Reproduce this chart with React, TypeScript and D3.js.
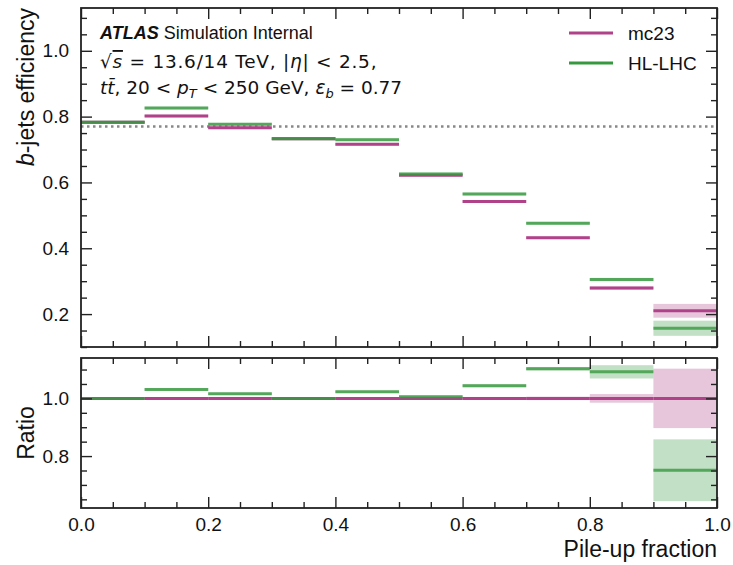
import React, { useEffect, useRef } from "react";
import * as d3 from "d3";

// bins of pile-up fraction
const binEdges = [0, 0.1, 0.2, 0.3, 0.4, 0.5, 0.6, 0.7, 0.8, 0.9, 1.0];

// b-jet efficiency per bin
const mc23Eff = [0.783, 0.802, 0.766, 0.733, 0.716, 0.622, 0.542, 0.432, 0.279, 0.21];
const mc23Err = [0.004, 0.004, 0.004, 0.004, 0.004, 0.004, 0.004, 0.004, 0.005, 0.021];
const hllhcEff = [0.783, 0.826, 0.777, 0.733, 0.73, 0.626, 0.565, 0.476, 0.305, 0.157];
const hllhcErr = [0.004, 0.004, 0.004, 0.004, 0.004, 0.004, 0.004, 0.004, 0.005, 0.023];

// ratio to mc23
const mc23Ratio = [1, 1, 1, 1, 1, 1, 1, 1, 1, 1];
const mc23RatioErr = [0.004, 0.004, 0.004, 0.004, 0.004, 0.004, 0.005, 0.006, 0.015, 0.103];
const hllhcRatio = [1.0, 1.031, 1.016, 1.0, 1.023, 1.006, 1.044, 1.103, 1.092, 0.751];
const hllhcRatioErr = [0.004, 0.004, 0.004, 0.004, 0.004, 0.004, 0.005, 0.006, 0.023, 0.107];

const xMajor = [0, 0.2, 0.4, 0.6, 0.8, 1.0];
const effMajor = [0.2, 0.4, 0.6, 0.8, 1.0];
const ratioMajor = [0.8, 1.0];
const refEff = 0.77;

const purple = "#b0428a";
const green = "#36993f";
const font = "'Liberation Sans', Arial, sans-serif";
const mathFont = "'DejaVu Sans', sans-serif";

const W = 733;
const H = 565;

const App = () => {
  const ref = useRef<SVGSVGElement>(null);

  useEffect(() => {
    const svg = d3.select(ref.current);
    svg.selectAll("*").remove();

    const left = 81;
    const right = 717;
    const mainTop = 8;
    const mainBottom = 347;
    const ratioTop = 358;
    const ratioBottom = 508;

    const x = d3.scaleLinear().domain([0, 1]).range([left, right]);
    const yEff = d3.scaleLinear().domain([0.1, 1.13]).range([mainBottom, mainTop]);
    const yRatio = d3.scaleLinear().domain([0.62, 1.14]).range([ratioBottom, ratioTop]);

    const xMinor = d3.range(0, 1.0001, 0.05).filter((v) => Math.abs(v * 5 - Math.round(v * 5)) > 1e-6);

    const minorOf = (y, step) =>
      d3
        .range(Math.ceil(y.domain()[0] / step) * step, y.domain()[1], step)
        .filter((v) => Math.abs(v * 5 - Math.round(v * 5)) > 1e-6);

    // ticks on all four sides, pointing in
    const frame = (y, yMajor, top, bottom, withXLabels) => {
      const g = svg.append("g");
      const style = (a) => {
        a.select(".domain").remove();
        a.selectAll("line").attr("stroke", "#222").attr("stroke-width", 1.4);
        a.selectAll("text").attr("font-size", 19).attr("font-family", font).attr("fill", "#111");
      };
      g.append("g")
        .attr("transform", `translate(0,${bottom})`)
        .call(
          d3.axisBottom(x).tickValues(xMajor).tickSizeInner(-11).tickSizeOuter(0).tickPadding(9.5)
            .tickFormat(withXLabels ? d3.format(".1f") : () => "")
        )
        .call(style);
      g.append("g")
        .attr("transform", `translate(0,${bottom})`)
        .call(d3.axisBottom(x).tickValues(xMinor).tickSize(-6).tickFormat(() => ""))
        .call(style);
      g.append("g")
        .attr("transform", `translate(0,${top})`)
        .call(d3.axisTop(x).tickValues(xMajor).tickSize(-11).tickFormat(() => ""))
        .call(style);
      g.append("g")
        .attr("transform", `translate(0,${top})`)
        .call(d3.axisTop(x).tickValues(xMinor).tickSize(-6).tickFormat(() => ""))
        .call(style);
      g.append("g")
        .attr("transform", `translate(${left},0)`)
        .call(d3.axisLeft(y).tickValues(yMajor).tickSizeInner(-11).tickSizeOuter(0).tickPadding(12).tickFormat(d3.format(".1f")))
        .call(style);
      g.append("g")
        .attr("transform", `translate(${left},0)`)
        .call(d3.axisLeft(y).tickValues(minorOf(y, 0.05)).tickSize(-6).tickFormat(() => ""))
        .call(style);
      g.append("g")
        .attr("transform", `translate(${right},0)`)
        .call(d3.axisRight(y).tickValues(yMajor).tickSize(-11).tickFormat(() => ""))
        .call(style);
      g.append("g")
        .attr("transform", `translate(${right},0)`)
        .call(d3.axisRight(y).tickValues(minorOf(y, 0.05)).tickSize(-6).tickFormat(() => ""))
        .call(style);
      g.append("rect")
        .attr("x", left)
        .attr("y", top)
        .attr("width", right - left)
        .attr("height", bottom - top)
        .attr("fill", "none")
        .attr("stroke", "#222")
        .attr("stroke-width", 1.8);
    };

    // step series drawn as a band plus a line per bin
    const series = (y, vals, errs, color, lineOpacity) => {
      const bins = vals.map((v, i) => ({ x0: binEdges[i], x1: binEdges[i + 1], v, e: errs[i] }));
      const g = svg.append("g");
      g.selectAll("rect")
        .data(bins)
        .join("rect")
        .attr("x", (d) => x(d.x0))
        .attr("width", (d) => x(d.x1) - x(d.x0))
        .attr("y", (d) => y(d.v + d.e))
        .attr("height", (d) => y(d.v - d.e) - y(d.v + d.e))
        .attr("fill", color)
        .attr("fill-opacity", 0.3);
      g.selectAll("line")
        .data(bins)
        .join("line")
        .attr("x1", (d) => x(d.x0))
        .attr("x2", (d) => x(d.x1))
        .attr("y1", (d) => y(d.v))
        .attr("y2", (d) => y(d.v))
        .attr("stroke", color)
        .attr("stroke-opacity", lineOpacity)
        .attr("stroke-width", 3);
    };

    // main panel
    svg.append("line")
      .attr("x1", left)
      .attr("x2", right)
      .attr("y1", yEff(refEff))
      .attr("y2", yEff(refEff))
      .attr("stroke", "#888")
      .attr("stroke-width", 2.5)
      .attr("stroke-dasharray", "2.5,3.5");
    series(yEff, mc23Eff, mc23Err, purple, 1);
    series(yEff, hllhcEff, hllhcErr, green, 0.8);
    frame(yEff, effMajor, mainTop, mainBottom, false);

    // ratio panel
    series(yRatio, mc23Ratio, mc23RatioErr, purple, 1);
    series(yRatio, hllhcRatio, hllhcRatioErr, green, 0.8);
    frame(yRatio, ratioMajor, ratioTop, ratioBottom, true);

    // legend
    const legend = svg.append("g");
    [
      { label: "mc23", color: purple },
      { label: "HL-LHC", color: green },
    ].forEach((d, i) => {
      const yy = 33 + i * 30;
      legend.append("line")
        .attr("x1", 569).attr("x2", 613).attr("y1", yy).attr("y2", yy)
        .attr("stroke", d.color).attr("stroke-width", 3);
      legend.append("text")
        .attr("x", 628).attr("y", yy).attr("dy", "0.36em")
        .attr("font-family", font).attr("font-size", 19).attr("fill", "#111")
        .text(d.label);
    });

    // ATLAS label block
    const t1 = svg.append("text").attr("x", 100).attr("y", 39).attr("font-family", font).attr("font-size", 18).attr("fill", "#111");
    t1.append("tspan").attr("font-weight", "bold").attr("font-style", "italic").text("ATLAS");
    t1.append("tspan").text(" Simulation Internal");

    const t2 = svg.append("text").attr("x", 100).attr("y", 68).attr("font-family", mathFont).attr("font-size", 18.5)
      .attr("letter-spacing", 0.75).attr("fill", "#111");
    t2.append("tspan").text("\u221A");
    t2.append("tspan").attr("font-style", "italic").attr("text-decoration", "overline").text("s");
    t2.append("tspan").text(" = 13.6/14 TeV, |");
    t2.append("tspan").attr("font-style", "italic").text("\u03B7");
    t2.append("tspan").text("| < 2.5,");

    const t3 = svg.append("text").attr("x", 100).attr("y", 94).attr("font-family", mathFont).attr("font-size", 18.5).attr("fill", "#111");
    t3.append("tspan").attr("font-style", "italic").text("t\u0074\u0304");
    t3.append("tspan").text(", 20 < ");
    t3.append("tspan").attr("font-style", "italic").text("p");
    t3.append("tspan").attr("font-style", "italic").attr("font-size", 13).attr("dy", 4).text("T");
    t3.append("tspan").attr("dy", -4).text(" < 250 GeV, ");
    t3.append("tspan").attr("font-style", "italic").text("\u03B5");
    t3.append("tspan").attr("font-style", "italic").attr("font-size", 13).attr("dy", 4).text("b");
    t3.append("tspan").attr("dy", -4).text(" = 0.77");

    // axis titles
    const yl = svg.append("text")
      .attr("transform", `translate(34,${mainTop}) rotate(-90)`)
      .attr("text-anchor", "end")
      .attr("font-family", font).attr("font-size", 23).attr("fill", "#111");
    yl.append("tspan").attr("font-style", "italic").text("b");
    yl.append("tspan").text("-jets efficiency");

    svg.append("text")
      .attr("transform", `translate(34,${(ratioTop + ratioBottom) / 2}) rotate(-90)`)
      .attr("text-anchor", "middle")
      .attr("font-family", font).attr("font-size", 23).attr("fill", "#111")
      .text("Ratio");

    svg.append("text")
      .attr("x", right)
      .attr("y", 557)
      .attr("text-anchor", "end")
      .attr("font-family", font).attr("font-size", 23).attr("fill", "#111")
      .text("Pile-up fraction");
  }, []);

  return (
    <>
      <svg
        ref={ref}
        width={W}
        height={H}
        viewBox={`0 0 ${W} ${H}`}
        style={{ position: "absolute", left: 0, top: 0, background: "#fff" }}
      ></svg>
    </>
  );
};

export default App;
